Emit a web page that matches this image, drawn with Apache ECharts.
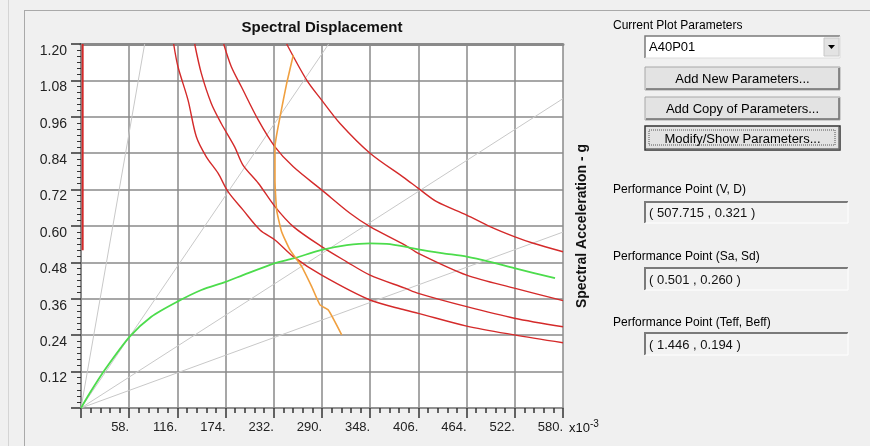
<!DOCTYPE html>
<html>
<head>
<meta charset="utf-8">
<script src="https://cdn.jsdelivr.net/npm/echarts@6/dist/echarts.min.js"></script>
<style>
  html, body { margin: 0; padding: 0; background: #f0f0f0; }
  #chart { width: 870px; height: 446px; }
</style>
</head>
<body>
<div id="chart"></div>
<script>
// ---- Data (Sd in x10^-3, Sa in g) ----
const xMax = 580, xInterval = 58;
const yMax = 1.2, yInterval = 0.12;

const periodLine1 = [[0, 0], [76.6, 1.2]];
const periodLine2 = [[0, 0], [298, 1.2]];
const periodLine3 = [[0, 0], [580, 1.02]];
const periodLine4 = [[0, 0], [580, 0.58]];

const demandLeft = [[2, 0.52], [2, 1.2]];

const demandA = [[111.5,1.2],[116.7,1.125],[128.8,1.015],[138.8,0.894],[150.8,0.828],[164.9,0.774],[176.9,0.713],[194.9,0.653],[215.4,0.587],[233.4,0.554],[255.5,0.499],[289.6,0.438],[347.8,0.356],[389.9,0.323],[405.9,0.312],[464.1,0.270],[521.4,0.241],[580,0.215]];
const demandB = [[136.8,1.2],[144.8,1.103],[156.8,1.004],[168.8,0.938],[184.9,0.861],[194.9,0.801],[213.4,0.741],[233.4,0.664],[255.5,0.598],[289.6,0.532],[319.7,0.482],[347.8,0.438],[389.9,0.395],[405.9,0.378],[464.1,0.334],[521.4,0.296],[580,0.268]];
const demandC = [[171.7,1.2],[180.9,1.125],[193,1.059],[213.4,0.949],[233.4,0.861],[255.5,0.795],[289.6,0.719],[323.7,0.642],[347.8,0.598],[389.9,0.537],[405.9,0.510],[464.1,0.438],[521.4,0.395],[580,0.354]];
const demandD = [[247.5,1.2],[271.6,1.081],[289.6,1.015],[311.7,0.938],[347.8,0.840],[389.9,0.757],[405.9,0.724],[428,0.680],[464.1,0.636],[492.2,0.598],[521.4,0.565],[544.3,0.543],[580,0.515]];

const capacity = [[0,0],[10.8,0.05],[28.5,0.125],[58.6,0.235],[84.6,0.301],[115.5,0.350],[144.8,0.389],[174.1,0.416],[194.9,0.438],[232.6,0.477],[255.5,0.493],[289.6,0.521],[319.7,0.537],[347.8,0.543],[367.8,0.541],[389.9,0.532],[405.9,0.523],[436,0.510],[464.1,0.499],[492.2,0.482],[521.4,0.461],[570.4,0.428]];

const singleDemand = [[255.5,1.164],[247.5,1.070],[239.5,0.960],[233.4,0.861],[233.4,0.752],[235.4,0.653],[241.4,0.581],[251.5,0.521],[265.6,0.466],[277.6,0.400],[287.6,0.340],[297.6,0.323],[313.7,0.241]];

const titleText = 'Spectral Displacement';
const yAxisTitle = 'Spectral Acceleration - g';
const panelTexts = {
  current: 'Current Plot Parameters',
  combo: 'A40P01',
  btn1: 'Add New Parameters...',
  btn2: 'Add Copy of Parameters...',
  btn3: 'Modify/Show Parameters...',
  pp1Label: 'Performance Point (V, D)',
  pp1Value: '( 507.715 , 0.321 )',
  pp2Label: 'Performance Point (Sa, Sd)',
  pp2Value: '( 0.501 , 0.260 )',
  pp3Label: 'Performance Point (Teff, Beff)',
  pp3Value: '( 1.446 , 0.194 )'
};

const FONT = '"Liberation Sans", Arial, sans-serif';

function lineSeries(data, color, width, smooth) {
  return {
    type: 'line', data: data, showSymbol: false, symbol: 'none', smooth: smooth || false,
    lineStyle: { color: color, width: width }, silent: true, z: 3
  };
}

function button(x, y, w, h, text, focused) {
  const els = [
    { type: 'rect', shape: { x: x, y: y, width: w, height: h },
      style: { fill: '#e3e3e3', stroke: focused ? '#333333' : '#a8a8a8', lineWidth: focused ? 1.5 : 1 } },
    { type: 'polyline', shape: { points: [[x + 1, y + h - 1], [x + w - 1, y + h - 1], [x + w - 1, y + 1]] },
      style: { stroke: '#6e6e6e', lineWidth: 1.5, fill: null } },
    { type: 'text', x: x + w / 2, y: y + h / 2 + 1,
      style: { text: text, font: '13px ' + FONT, fill: '#000', align: 'center', verticalAlign: 'middle' } }
  ];
  if (focused) {
    els.push({ type: 'rect', shape: { x: x + 4, y: y + 4, width: w - 9, height: h - 9 },
      style: { fill: null, stroke: '#555', lineWidth: 1, lineDash: [1, 1] } });
  }
  return els;
}

function sunkenBox(x, y, w, h, text) {
  return [
    { type: 'rect', shape: { x: x, y: y, width: w, height: h }, style: { fill: '#f2f2f2', stroke: null } },
    { type: 'polyline', shape: { points: [[x, y + h], [x, y], [x + w, y]] },
      style: { stroke: '#7a7a7a', lineWidth: 2, fill: null } },
    { type: 'polyline', shape: { points: [[x + w, y], [x + w, y + h], [x, y + h]] },
      style: { stroke: '#ffffff', lineWidth: 1, fill: null } },
    { type: 'text', x: x + 4, y: y + h / 2 + 1,
      style: { text: text, font: '13px ' + FONT, fill: '#111', align: 'left', verticalAlign: 'middle' } }
  ];
}

function label(x, y, text) {
  return { type: 'text', x: x, y: y,
    style: { text: text, font: '12px ' + FONT, fill: '#000', align: 'left', verticalAlign: 'middle' } };
}

const graphics = [
  // frame lines
  { type: 'line', shape: { x1: 8.5, y1: 0, x2: 8.5, y2: 446 }, style: { stroke: '#d4d4d4', lineWidth: 1 } },
  { type: 'line', shape: { x1: 24.5, y1: 10, x2: 24.5, y2: 446 }, style: { stroke: '#a9a9a9', lineWidth: 1 } },
  { type: 'line', shape: { x1: 24, y1: 10.5, x2: 870, y2: 10.5 }, style: { stroke: '#a9a9a9', lineWidth: 1 } },
  // chart title
  { type: 'text', x: 322, y: 28,
    style: { text: titleText, font: 'bold 15px ' + FONT, fill: '#111', align: 'center', verticalAlign: 'middle' } },
  // y axis title (vertical)
  { type: 'text', x: 582, y: 226, rotation: Math.PI / 2,
    style: { text: yAxisTitle, font: 'bold 14px ' + FONT, fill: '#111', align: 'center', verticalAlign: 'middle' } },
  // x10^-3
  { type: 'text', x: 569, y: 428,
    style: { text: '{a|x10}{b|-3}', font: '13px ' + FONT, fill: '#111', align: 'left', verticalAlign: 'middle',
      rich: { a: { font: '13px ' + FONT, fill: '#111' }, b: { font: '10px ' + FONT, fill: '#111', verticalAlign: 'top', padding: [0, 0, 8, 0] } } } },
  // right panel
  label(613, 26, panelTexts.current),
  { type: 'rect', shape: { x: 645, y: 36, width: 195, height: 22 }, style: { fill: '#ffffff', stroke: null } },
  { type: 'polyline', shape: { points: [[645, 58], [645, 36], [840, 36]] }, style: { stroke: '#7a7a7a', lineWidth: 1.5, fill: null } },
  { type: 'polyline', shape: { points: [[840, 36], [840, 58], [645, 58]] }, style: { stroke: '#dcdcdc', lineWidth: 1, fill: null } },
  { type: 'rect', shape: { x: 824, y: 38, width: 15, height: 18 }, style: { fill: '#e3e3e3', stroke: '#c8c8c8', lineWidth: 1 } },
  { type: 'polygon', shape: { points: [[828, 45], [835, 45], [831.5, 49]] }, style: { fill: '#000' } },
  { type: 'text', x: 649, y: 47.5,
    style: { text: panelTexts.combo, font: '13px ' + FONT, fill: '#000', align: 'left', verticalAlign: 'middle' } },
  ...button(645, 67, 195, 23, panelTexts.btn1, false),
  ...button(645, 97, 195, 23, panelTexts.btn2, false),
  ...button(645, 126, 195, 24, panelTexts.btn3, true),
  label(613, 190, panelTexts.pp1Label),
  ...sunkenBox(645, 202, 203, 21, panelTexts.pp1Value),
  label(613, 257, panelTexts.pp2Label),
  ...sunkenBox(645, 268, 203, 22, panelTexts.pp2Value),
  label(613, 323, panelTexts.pp3Label),
  ...sunkenBox(645, 333, 203, 22, panelTexts.pp3Value)
];

const chart = echarts.init(document.getElementById('chart'), null, { renderer: 'canvas' });
chart.setOption({
  animation: false,
  backgroundColor: '#f0f0f0',
  grid: { left: 81, top: 44, right: 307, bottom: 38, show: true, backgroundColor: '#ffffff', borderWidth: 0 },
  xAxis: [{
    type: 'value', min: 0, max: xMax, interval: xInterval,
    axisLine: { show: true, onZero: false, lineStyle: { color: '#8a8a8a', width: 1.5 } },
    axisTick: { show: true, length: 10, lineStyle: { color: '#333', width: 1.5 } },
    minorTick: { show: true, splitNumber: 5, length: 5, lineStyle: { color: '#333', width: 1.5 } },
    splitLine: { show: true, lineStyle: { color: '#8a8a8a', width: 1.5 } },
    axisLabel: {
      show: true, margin: 13, fontSize: 13, fontFamily: FONT, color: '#222', align: 'right',
      formatter: v => (v === 0 ? '' : String(Math.round(v)) + '.')
    }
  }, {
    type: 'value', position: 'top', min: 0, max: xMax, interval: xInterval,
    axisLine: { show: true, onZero: false, lineStyle: { color: '#8a8a8a', width: 3 } },
    axisTick: { show: false }, axisLabel: { show: false }, splitLine: { show: false }
  }],
  yAxis: {
    type: 'value', min: 0, max: yMax, interval: yInterval,
    axisLine: { show: true, onZero: false, lineStyle: { color: '#8a8a8a', width: 2 } },
    axisTick: { show: true, length: 10, lineStyle: { color: '#333', width: 1.5 } },
    minorTick: { show: true, splitNumber: 6, length: 4, lineStyle: { color: '#333', width: 1 } },
    splitLine: { show: true, lineStyle: { color: '#8a8a8a', width: 1.5 } },
    axisLabel: {
      show: true, margin: 14, fontSize: 14, fontFamily: FONT, color: '#222', verticalAlign: 'top',
      formatter: v => (v === 0 ? '' : v.toFixed(2))
    }
  },
  series: [
    lineSeries(periodLine1, '#c8c8c8', 1),
    lineSeries(periodLine2, '#c8c8c8', 1),
    lineSeries(periodLine3, '#c8c8c8', 1),
    lineSeries(periodLine4, '#c8c8c8', 1),
    lineSeries(demandLeft, '#d42a2a', 2),
    lineSeries(demandA, '#d42a2a', 1.4, 0.3),
    lineSeries(demandB, '#d42a2a', 1.4, 0.3),
    lineSeries(demandC, '#d42a2a', 1.4, 0.3),
    lineSeries(demandD, '#d42a2a', 1.4, 0.3),
    lineSeries(capacity, '#4cdc4c', 1.8, 0.25),
    lineSeries(singleDemand, '#f0a040', 1.6, 0.15)
  ],
  graphic: graphics
});
</script>
</body>
</html>
